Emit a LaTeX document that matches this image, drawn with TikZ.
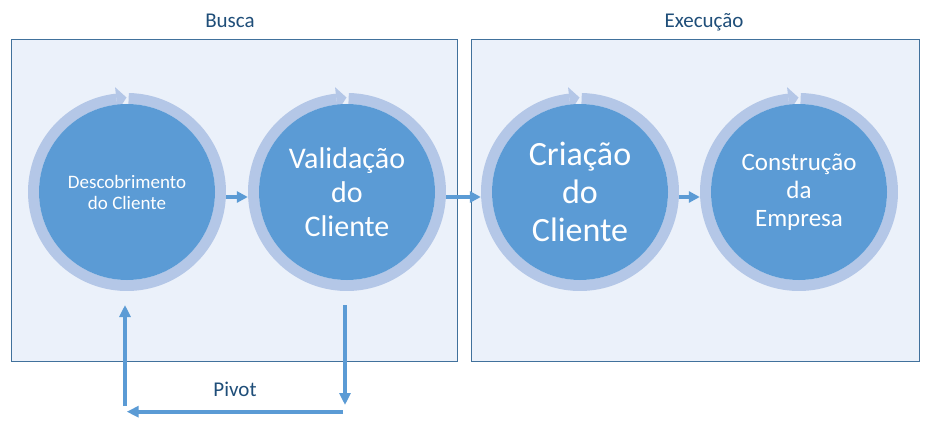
\documentclass[tikz,border=0pt]{standalone}
\usepackage{fontspec}
\setmainfont{Carlito}
\usetikzlibrary{arrows.meta,calc}
\definecolor{boxfill}{HTML}{EBF1FA}
\definecolor{boxline}{HTML}{41719C}
\definecolor{ringcol}{HTML}{B4C7E7}
\definecolor{circcol}{HTML}{5B9BD5}
\definecolor{titlecol}{HTML}{1F4E79}
\newcommand{\ringaround}[1]{%
  \draw[ringline] ($(#1)+(89:93.5)$) arc[start angle=89, end angle=-263.5, radius=93.5];
  \fill[ringcol] ($(#1)+(96.5:81.5)$) -- ($(#1)+(96.5:105.5)$) -- ($(#1)+(90.3:94.5)$) -- cycle;}
\begin{document}
\begin{tikzpicture}[x=1pt,y=1pt,
  phasebox/.style={draw=boxline, fill=boxfill, line width=1.3pt, rectangle, inner sep=0pt, minimum width=446pt, minimum height=321.8pt},
  core/.style={circle, fill=circcol, minimum size=176pt, inner sep=0pt, text=white, align=center},
  outer/.style={circle, minimum size=198pt, inner sep=0pt},
  ringline/.style={draw=ringcol, line width=11pt},
  flow/.style={draw=circcol, line width=3.5pt, -{Triangle[length=11pt,width=11pt]}},
  pivotflow/.style={draw=circcol, line width=4pt, -{Triangle[length=12pt,width=11pt]}},
  title/.style={text=titlecol, font=\fontsize{21}{24}\selectfont, anchor=base, inner sep=0pt},
]
\useasboundingbox (0,0) rectangle (932,424);
\fill[white] (0,0) rectangle (932,424);
% phases
\node[phasebox] (busca) at (234.5,223.6) {};
\node[phasebox, minimum width=448pt] (exec) at (695.3,223.6) {};
\node[title] (t1) at (230,396.7) {Busca};
\node[title] (t2) at (704,396.7) {Execução};
% outer ring coordinates
\node[outer] (r1) at (127,232) {};
\node[outer] (r2) at (347,232) {};
\node[outer] (r3) at (580,232) {};
\node[outer] (r4) at (799,232) {};
\ringaround{r1}
\ringaround{r2}
\ringaround{r3}
\ringaround{r4}
\node[core, font=\fontsize{19}{21}\selectfont] (c1) at (r1) {Descobrimento\\do Cliente};
\node[core, font=\fontsize{30}{34}\selectfont] (c2) at (r2) {Validação\\do\\Cliente};
\node[core, font=\fontsize{34}{38.3}\selectfont] (c3) at (r3) {Criação\\do\\Cliente};
\node[core, font=\fontsize{25}{28.3}\selectfont] (c4) at (r4) {Construção\\da\\Empresa};
% flow arrows
\draw[flow] ([yshift=-5pt]r1.east) -- ([yshift=-5pt]r2.west);
\draw[flow] ([yshift=-5pt]r2.east) -- ([yshift=-5pt]r3.west);
\draw[flow] ([yshift=-5pt]r3.east) -- ([yshift=-5pt]r4.west);
% pivot
\coordinate (u0) at (125,18);
\coordinate (u1) at (125,119);
\coordinate (d0) at (345,119);
\coordinate (d1) at (345,19);
\coordinate (h0) at (343,12.3);
\coordinate (h1) at (126.7,12.3);
\draw[pivotflow] (u0) -- (u1);
\draw[pivotflow] (d0) -- (d1);
\draw[pivotflow] (h0) -- (h1);
\node[title] (pv) at (235,28) {Pivot};
\end{tikzpicture}
\end{document}
